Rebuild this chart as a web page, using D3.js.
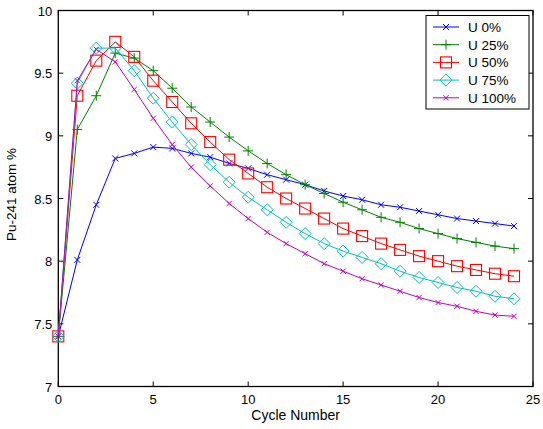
<!DOCTYPE html>
<html>
<head>
<meta charset="utf-8">
<script src="https://cdn.jsdelivr.net/npm/d3@7"></script>
<style>
  html, body { margin: 0; padding: 0; background: #fff; }
  svg { display: block; font-family: "Liberation Sans", Arial, sans-serif; }
</style>
</head>
<body>
<div id="chart"></div>
<script>
// data
const cycles = [0, 1, 2, 3, 4, 5, 6, 7, 8, 9, 10, 11, 12, 13, 14, 15, 16, 17, 18, 19, 20, 21, 22, 23, 24];
const seriesNames = ["U 0%", "U 25%", "U 50%", "U 75%", "U 100%"];
const u0 = [7.40, 8.01, 8.45, 8.82, 8.86, 8.91, 8.90, 8.86, 8.83, 8.78, 8.74, 8.69, 8.65, 8.61, 8.56, 8.52, 8.49, 8.45, 8.43, 8.40, 8.37, 8.34, 8.32, 8.30, 8.28];
const u25 = [7.40, 9.05, 9.32, 9.66, 9.62, 9.52, 9.38, 9.23, 9.11, 8.99, 8.88, 8.78, 8.69, 8.61, 8.54, 8.47, 8.41, 8.35, 8.31, 8.26, 8.22, 8.18, 8.15, 8.12, 8.10];
const u50 = [7.40, 9.32, 9.60, 9.75, 9.63, 9.44, 9.27, 9.10, 8.95, 8.81, 8.70, 8.59, 8.50, 8.42, 8.34, 8.26, 8.20, 8.14, 8.09, 8.04, 8.00, 7.96, 7.93, 7.90, 7.88];
const u75 = [7.40, 9.42, 9.70, 9.70, 9.52, 9.30, 9.11, 8.93, 8.77, 8.63, 8.51, 8.41, 8.31, 8.22, 8.14, 8.08, 8.03, 7.98, 7.92, 7.87, 7.83, 7.79, 7.76, 7.72, 7.70];
const u100 = [7.40, 9.44, 9.69, 9.59, 9.37, 9.14, 8.93, 8.75, 8.60, 8.46, 8.34, 8.23, 8.14, 8.06, 7.98, 7.92, 7.86, 7.81, 7.76, 7.71, 7.67, 7.64, 7.60, 7.57, 7.56];
const xTicks = [0, 5, 10, 15, 20, 25];
const yTicks = [7, 7.5, 8, 8.5, 9, 9.5, 10];

const W = 543, H = 429;
const margin = { top: 10.5, right: 10, bottom: 42.5, left: 58.3 };

const series = [
  { name: seriesNames[0], values: u0, color: "#0000ff", marker: "x" },
  { name: seriesNames[1], values: u25, color: "#008000", marker: "plus" },
  { name: seriesNames[2], values: u50, color: "#ff0000", marker: "square" },
  { name: seriesNames[3], values: u75, color: "#00bfbf", marker: "diamond" },
  { name: seriesNames[4], values: u100, color: "#bf00bf", marker: "xs" }
];

const svg = d3.select("#chart").append("svg")
  .attr("width", W)
  .attr("height", H);

const x = d3.scaleLinear().domain([0, 25]).range([margin.left, W - margin.right]);
const y = d3.scaleLinear().domain([7, 10]).range([H - margin.bottom, margin.top]);

// draw one marker
function drawMarker(g, type, cx, cy, color) {
  if (type === "x" || type === "xs") {
    const s = type === "x" ? 3 : 2.6;
    g.append("path")
      .attr("d", `M${cx - s},${cy - s}L${cx + s},${cy + s}M${cx - s},${cy + s}L${cx + s},${cy - s}`)
      .attr("stroke", color).attr("stroke-width", 1).attr("fill", "none");
  } else if (type === "plus") {
    const s = 5;
    g.append("path")
      .attr("d", `M${cx - s},${cy}L${cx + s},${cy}M${cx},${cy - s}L${cx},${cy + s}`)
      .attr("stroke", color).attr("stroke-width", 1).attr("fill", "none");
  } else if (type === "square") {
    const s = 5.5;
    g.append("rect")
      .attr("x", cx - s).attr("y", cy - s)
      .attr("width", 2 * s).attr("height", 2 * s)
      .attr("stroke", color).attr("stroke-width", 1.1).attr("fill", "none");
  } else if (type === "diamond") {
    const s = 6;
    g.append("path")
      .attr("d", `M${cx},${cy - s}L${cx + s},${cy}L${cx},${cy + s}L${cx - s},${cy}Z`)
      .attr("stroke", color).attr("stroke-width", 1).attr("fill", "none");
  }
}

// axes box with inward ticks on all sides
const x0 = x(0), x1 = x(25), y0 = y(7), y1 = y(10);
const tickLen = 5;
const axisG = svg.append("g").attr("stroke", "#000").attr("stroke-width", 1);

xTicks.forEach(t => {
  axisG.append("line").attr("x1", x(t)).attr("x2", x(t)).attr("y1", y0).attr("y2", y0 - tickLen);
  axisG.append("line").attr("x1", x(t)).attr("x2", x(t)).attr("y1", y1).attr("y2", y1 + tickLen);
  svg.append("text")
    .attr("x", x(t)).attr("y", y0 + 17)
    .attr("text-anchor", "middle")
    .style("font-size", "13px")
    .text(t);
});
yTicks.forEach(t => {
  axisG.append("line").attr("x1", x0).attr("x2", x0 + tickLen).attr("y1", y(t)).attr("y2", y(t));
  axisG.append("line").attr("x1", x1).attr("x2", x1 - tickLen).attr("y1", y(t)).attr("y2", y(t));
  svg.append("text")
    .attr("x", x0 - 6).attr("y", y(t) + 5)
    .attr("text-anchor", "end")
    .style("font-size", "13px")
    .text(t);
});

axisG.append("rect")
  .attr("x", x0).attr("y", y1)
  .attr("width", x1 - x0).attr("height", y0 - y1)
  .attr("fill", "none")
  .attr("stroke-width", 1.3);

// lines and markers
const line = d3.line()
  .x((d, i) => x(cycles[i]))
  .y(d => y(d));

series.forEach(s => {
  svg.append("path")
    .datum(s.values)
    .attr("d", line)
    .attr("fill", "none")
    .attr("stroke", s.color)
    .attr("stroke-width", 1);
  const mg = svg.append("g");
  s.values.forEach((v, i) => drawMarker(mg, s.marker, x(cycles[i]), y(v), s.color));
});

// axis labels
svg.append("text")
  .attr("x", (x0 + x1) / 2).attr("y", H - 9)
  .attr("text-anchor", "middle")
  .style("font-size", "14px")
  .text("Cycle Number");

svg.append("text")
  .attr("transform", `translate(16,${(y0 + y1) / 2 - 4}) rotate(-90)`)
  .attr("text-anchor", "middle")
  .style("font-size", "13.5px")
  .text("Pu-241 atom %");

// legend
const legend = svg.append("g");
legend.append("rect")
  .attr("x", 426).attr("y", 15.5)
  .attr("width", 103).attr("height", 93.5)
  .attr("fill", "#fff")
  .attr("stroke", "#000")
  .attr("stroke-width", 1);

series.forEach((s, i) => {
  const ly = 27 + i * 17.7;
  legend.append("line")
    .attr("x1", 433).attr("x2", 459)
    .attr("y1", ly).attr("y2", ly)
    .attr("stroke", s.color).attr("stroke-width", 1);
  drawMarker(legend, s.marker, 446, ly, s.color);
  legend.append("text")
    .attr("x", 468).attr("y", ly + 5)
    .style("font-size", "13.5px")
    .text(s.name);
});
</script>
</body>
</html>
